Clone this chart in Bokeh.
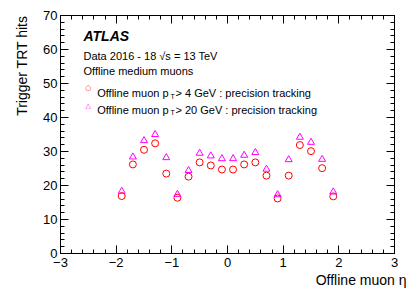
import numpy as np
from bokeh.plotting import figure
from bokeh.models import Range1d, FixedTicker, LinearAxis, Label, Title
from bokeh.embed import file_html
from bokeh.resources import INLINE

# data
eta_bins = [-1.9, -1.7, -1.5, -1.3, -1.1, -0.9, -0.7, -0.5, -0.3, -0.1,
            0.1, 0.3, 0.5, 0.7, 0.9, 1.1, 1.3, 1.5, 1.7, 1.9]
hits_pt4 = [16.9, 26.2, 30.5, 32.4, 23.5, 16.4, 22.6, 26.8, 25.9, 24.7,
            24.7, 26.2, 26.8, 22.9, 16.2, 22.9, 31.9, 30.1, 25.1, 16.8]
hits_pt20 = [18.3, 28.4, 33.2, 35.0, 28.2, 17.4, 24.4, 29.5, 28.7, 27.9,
             27.9, 28.9, 29.7, 24.8, 17.3, 27.6, 34.2, 32.7, 27.7, 18.1]
x_major = [-3, -2, -1, 0, 1, 2, 3]
y_major = [0, 10, 20, 30, 40, 50, 60, 70]

FONT = "Liberation Sans"

p = figure(width=407, height=290, output_backend="svg", toolbar_location=None,
           x_range=Range1d(-3, 3), y_range=Range1d(0, 70),
           min_border_left=60, min_border_right=13, min_border_top=15, min_border_bottom=37,
           background_fill_color="white", border_fill_color="white")
p.xgrid.visible = False
p.ygrid.visible = False
p.outline_line_color = "black"
p.outline_line_width = 1

x_minor = [round(v, 1) for v in np.arange(-3, 3.001, 0.2)]
y_minor = list(range(0, 71, 2))
xt = FixedTicker(ticks=x_major, minor_ticks=x_minor)
yt = FixedTicker(ticks=y_major, minor_ticks=y_minor)

def style(ax, ticks, labels=True):
    ax.axis_line_color = "black"
    ax.major_tick_line_color = "black"
    ax.minor_tick_line_color = "black"
    ax.major_tick_in = 8
    ax.major_tick_out = 0
    ax.minor_tick_in = 4
    ax.minor_tick_out = 0
    if labels:
        ax.major_label_text_font = FONT
        ax.major_label_text_font_size = "13px"
        ax.major_label_text_color = "black"
    else:
        ax.major_label_overrides = {v: "" for v in ticks}
        ax.major_label_standoff = 0

p.xaxis.ticker = xt
p.yaxis.ticker = yt
style(p.xaxis[0], x_major)
style(p.yaxis[0], y_major)
p.xaxis.major_label_standoff = 4
p.yaxis.major_label_standoff = 3
p.xaxis.major_label_overrides = {v: str(v).replace("-", "\u2212") for v in x_major}

top = LinearAxis(ticker=xt)
style(top, x_major, labels=False)
right = LinearAxis(ticker=yt)
style(right, y_major, labels=False)
p.add_layout(top, "above")
p.add_layout(right, "right")

p.scatter(eta_bins, hits_pt4, marker="circle", size=7, fill_color=None,
          line_color="#ff0000", line_width=1)
p.scatter(eta_bins, hits_pt20, marker="triangle", size=7, fill_color=None,
          line_color="#ff00ff", line_width=1)

def lab(text, x, y, size="11px", style="normal", color="black", align="left",
        baseline="alphabetic", angle=0, font=FONT):
    p.add_layout(Label(x=x, y=y, x_units="screen", y_units="screen", text=text,
                       text_font=font, text_font_size=size, text_font_style=style,
                       text_color=color, text_align=align, text_baseline=baseline,
                       angle=angle))

lab("ATLAS", 23, 218, size="14px", style="bold italic")
lab("Data 2016 - 18 \u221as = 13 TeV", 23, 198)
lab("Offline medium muons", 23, 183)

lab("\u25cb", 27.7, 165.7, size="7px", color="#ff0000", align="center", baseline="middle", font="DejaVu Sans")
lab("Offline muon p", 36.7, 160.3)
lab("T", 110, 157.5, size="7px")
lab("> 4 GeV : precision tracking", 115, 160.3)

lab("\u25b3", 27.7, 148, size="7px", color="#ff00ff", align="center", baseline="middle", font="DejaVu Sans")
lab("Offline muon p", 36.7, 143.7)
lab("T", 110, 141, size="7px")
lab("> 20 GeV : precision tracking", 115, 143.7)

xtitle = Title(text="Offline muon \u03b7", align="right", text_font=FONT, text_color="black",
               text_font_size="14px", text_font_style="normal", text_line_height=1.0,
               standoff=0, offset=-12)
p.add_layout(xtitle, "below")
ytitle = Title(text="Trigger TRT hits", align="right", vertical_align="top", text_font=FONT,
               text_color="black", text_font_size="14px", text_font_style="normal",
               text_line_height=1.0, standoff=18)
p.add_layout(ytitle, "left")

open("out.html", "w").write(file_html(p, INLINE))
